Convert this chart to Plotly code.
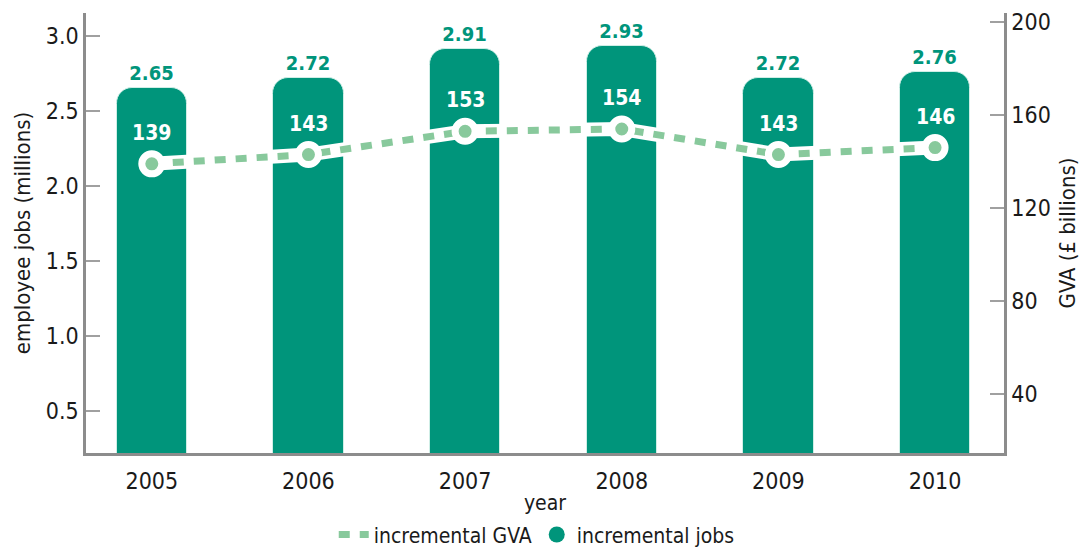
import plotly.graph_objects as go

# Employee jobs and GVA by year
years = ["2005", "2006", "2007", "2008", "2009", "2010"]
jobs_millions = [2.65, 2.72, 2.91, 2.93, 2.72, 2.76]
gva_billions = [139, 143, 153, 154, 143, 146]

left_ticks = [0.5, 1.0, 1.5, 2.0, 2.5, 3.0]
right_ticks = [40, 80, 120, 160, 200]

TEAL = "#00957b"
LIGHT = "#88c99c"
AXIS = "#8c8c8c"
FONT = "DejaVu Sans Condensed, Liberation Sans Narrow, Arial Narrow, sans-serif"

fig = go.Figure()

fig.add_trace(go.Bar(
    x=years, y=jobs_millions, width=0.45,
    marker=dict(color=TEAL, line=dict(color="#cfeee6", width=1), cornerradius=16),
    texttemplate="%{y:.2f}", textposition="outside",
    textfont=dict(color=TEAL, size=20, family=FONT, weight="bold"),
    cliponaxis=False, showlegend=False, hoverinfo="skip",
))

# white casing beneath the dashed GVA line
fig.add_trace(go.Scatter(
    x=years, y=gva_billions, yaxis="y2", mode="lines",
    line=dict(color="white", width=14), showlegend=False, hoverinfo="skip",
))

# dashed GVA line (legend entry)
fig.add_trace(go.Scatter(
    x=years, y=gva_billions, yaxis="y2", mode="lines",
    name="incremental GVA",
    line=dict(color=LIGHT, width=7, dash="11px,10px"),
    hoverinfo="skip",
))

# GVA points with white rings
fig.add_trace(go.Scatter(
    x=years, y=gva_billions, yaxis="y2", mode="markers",
    marker=dict(size=20, color=LIGHT, line=dict(color="white", width=7)),
    cliponaxis=False, showlegend=False,
))

# legend entry for the bars, drawn as a circle
fig.add_trace(go.Scatter(
    x=[None], y=[None], mode="markers", name="incremental jobs",
    marker=dict(size=18, color=TEAL, symbol="circle"),
))

for i, v in enumerate(gva_billions):
    fig.add_annotation(
        x=i, y=v, xref="x", yref="y2", text=f"<b>{v}</b>", showarrow=False,
        yshift=31, font=dict(color="white", size=21, family=FONT),
    )

fig.update_layout(
    width=1091, height=549,
    margin=dict(l=86, r=87, t=13, b=96, autoexpand=False),
    paper_bgcolor="white", plot_bgcolor="white",
    font=dict(family=FONT, color="#1a1a1a", size=21),
    bargap=0,
    xaxis=dict(
        type="category", range=[-0.42, 5.44], automargin=False,
        showline=True, linecolor=AXIS, linewidth=2.5,
        ticks="", showgrid=False, ticklabelstandoff=6,
        tickfont=dict(size=23),
        title=dict(text="year", standoff=2, font=dict(size=21)),
    ),
    yaxis=dict(
        range=[0.22, 3.153], tickvals=left_ticks, ticktext=[f"{t:.1f}" for t in left_ticks],
        automargin=False,
        showline=True, linecolor=AXIS, linewidth=2.5,
        ticks="inside", ticklen=14, tickcolor="#a0a0a0", tickwidth=1.5,
        showgrid=False, zeroline=False,
        tickfont=dict(size=23),
        title=dict(text="employee jobs (millions)", standoff=10, font=dict(size=22)),
    ),
    yaxis2=dict(
        overlaying="y", side="right", automargin=False,
        range=[14.6, 203.9], tickvals=right_ticks,
        showline=True, linecolor=AXIS, linewidth=2.5,
        ticks="inside", ticklen=14, tickcolor="#a0a0a0", tickwidth=1.5,
        showgrid=False, zeroline=False,
        tickfont=dict(size=23),
        title=dict(text="GVA (£ billions)", standoff=10, font=dict(size=22)),
    ),
    legend=dict(
        orientation="h", x=0.491, xanchor="center", y=-0.186, yanchor="middle",
        font=dict(size=21), tracegroupgap=0,
    ),
)

fig.write_html("out.html")
